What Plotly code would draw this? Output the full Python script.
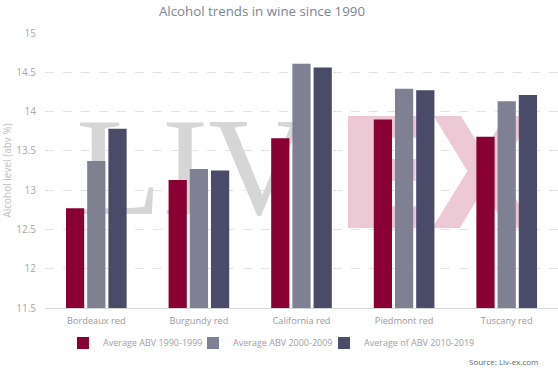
import plotly.graph_objects as go

categories = ["Bordeaux red", "Burgundy red", "California red", "Piedmont red", "Tuscany red"]
series_names = ["Average ABV 1990-1999", "Average ABV 2000-2009", "Average of ABV 2010-2019"]
abv_1990s = [12.77, 13.13, 13.66, 13.90, 13.68]
abv_2000s = [13.37, 13.27, 14.61, 14.29, 14.13]
abv_2010s = [13.78, 13.25, 14.56, 14.27, 14.21]
colors = ["#890032", "#808093", "#4a4a69"]
y_ticks = [11.5, 12, 12.5, 13, 13.5, 14, 14.5, 15]
y_tick_labels = ["11.5", "12", "12.5", "13", "13.5", "14", "14.5", "15"]

fig = go.Figure()

# Watermark (Liv-ex logo) on the base subplot, drawn below the bars
fig.add_trace(go.Scatter(
    x=[0.288], y=[0.468], mode="text", text=["LIV"],
    showlegend=False, hoverinfo="skip",
    textfont=dict(family="Liberation Serif", size=140, color="#d6d6d6"),
    xaxis="x", yaxis="y"))
fig.add_trace(go.Scatter(
    x=[0.762], y=[0.432], mode="text", text=["<b>EX</b>"], showlegend=False, hoverinfo="skip",
    textfont=dict(family="DejaVu Sans Condensed, Inter", size=154, color="#ecc9d4"),
    xaxis="x", yaxis="y"))

legend_ids = ["legend", "legend2", "legend3"]
for name, vals, c, lg in zip(series_names, [abv_1990s, abv_2000s, abv_2010s], colors, legend_ids):
    fig.add_trace(go.Bar(x=categories, y=vals, name=name, marker=dict(color=c, line=dict(width=0)),
                         xaxis="x2", yaxis="y2", legend=lg))

legend_style = dict(orientation="h", xanchor="left", y=-0.127, yanchor="middle",
                    font=dict(size=9, color="#a0a0a0"), itemwidth=30, bgcolor="rgba(0,0,0,0)")

fig.update_layout(
    width=558, height=374,
    margin=dict(l=45, r=0, t=33, b=66, autoexpand=False),
    paper_bgcolor="white", plot_bgcolor="white",
    font=dict(family="Open Sans", color="#9a9a9a", size=9),
    title=dict(text="Alcohol trends in wine since 1990", x=0.4695, xanchor="center", y=0.9706, yanchor="middle",
               font=dict(family="Open Sans", size=13.3, color="#7a8694")),
    barmode="group", bargap=0.38, bargroupgap=0.14,
    xaxis=dict(range=[0, 1], visible=False, fixedrange=True),
    yaxis=dict(range=[0, 1], visible=False, fixedrange=True),
    xaxis2=dict(overlaying="x", anchor="y2", side="bottom", showgrid=False, showline=True,
                linecolor="#d9d9d9", linewidth=1, ticks="", ticklabelstandoff=4, automargin=False,
                tickfont=dict(size=9.2, color="#9a9a9a")),
    yaxis2=dict(overlaying="y", anchor="x2", side="left", range=[11.5, 15], tickvals=y_ticks,
                ticktext=y_tick_labels, showgrid=True, gridcolor="#e3e3e3", griddash="dash",
                gridwidth=1, zeroline=False, showline=False, ticks="", ticklabelstandoff=8,
                automargin=False, tickfont=dict(size=10, color="#a8a8a8"),
                title=dict(text="Alcohol level (abv %)", font=dict(size=10, color="#c0c0c0"), standoff=2)),
    legend=dict(x=0.0351, **legend_style),
    legend2=dict(x=0.2885, **legend_style),
    legend3=dict(x=0.5439, **legend_style),
    annotations=[dict(text="Source: Liv-ex.com", xref="paper", yref="paper", x=0.965, y=-0.196,
                      xanchor="right", yanchor="middle", showarrow=False,
                      font=dict(size=8, color="#666666"))],
)

fig.write_html("out.html", config={"displayModeBar": False},
               post_script="document.body.style.margin='0';")
